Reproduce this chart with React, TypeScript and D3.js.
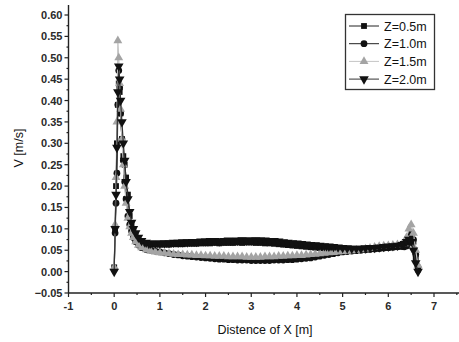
import React, { useEffect, useRef } from 'react';
import * as d3 from 'd3';

// shared X positions (m)
const xValues = [
    0, 0.02, 0.04, 0.06, 0.08, 0.1, 0.12, 0.14, 0.17, 0.2, 0.23, 0.26, 0.3, 0.34, 0.38, 0.42, 0.47, 0.53, 0.6, 0.7, 0.8, 0.9, 1.0,
    1.1, 1.2, 1.3, 1.4, 1.5, 1.6, 1.7, 1.8, 1.9, 2.0, 2.1, 2.2, 2.3, 2.4, 2.5, 2.6, 2.7, 2.8, 2.9, 3.0,
    3.1, 3.2, 3.3, 3.4, 3.5, 3.6, 3.7, 3.8, 3.9, 4.0, 4.1, 4.2, 4.3, 4.4, 4.5, 4.6, 4.7, 4.8, 4.9, 5.0,
    5.1, 5.2, 5.3, 5.4, 5.5, 5.6, 5.7, 5.8, 5.9, 6.0, 6.1, 6.2, 6.3,
    6.35, 6.4, 6.45, 6.5, 6.55, 6.6, 6.65
];

const vZ05 = [
    0.01, 0.095, 0.2, 0.3, 0.39, 0.44, 0.42, 0.37, 0.31, 0.27, 0.25, 0.22, 0.18, 0.13, 0.11, 0.095, 0.085, 0.075, 0.07, 0.066, 0.064, 0.063, 0.063,
    0.063, 0.063, 0.064, 0.064, 0.064, 0.065, 0.065, 0.065, 0.066, 0.066, 0.066, 0.067, 0.066, 0.067, 0.067, 0.067, 0.068, 0.067, 0.068, 0.068,
    0.067, 0.067, 0.066, 0.066, 0.065, 0.064, 0.063, 0.062, 0.061, 0.060, 0.059, 0.058, 0.057, 0.056, 0.055, 0.054, 0.054, 0.053, 0.053, 0.052,
    0.052, 0.051, 0.051, 0.052, 0.052, 0.053, 0.054, 0.054, 0.055, 0.056, 0.057, 0.058, 0.059,
    0.06, 0.065, 0.08, 0.09, 0.07, 0.03, 0.005
];

const vZ10 = [
    0.005, 0.09, 0.16, 0.23, 0.39, 0.47, 0.43, 0.37, 0.31, 0.26, 0.21, 0.17, 0.13, 0.11, 0.095, 0.08, 0.07, 0.062, 0.056, 0.052, 0.05, 0.048, 0.046,
    0.044, 0.042, 0.040, 0.039, 0.037, 0.036, 0.035, 0.034, 0.033, 0.032, 0.031, 0.030, 0.029, 0.029, 0.028, 0.028, 0.027, 0.027, 0.027, 0.026,
    0.026, 0.026, 0.026, 0.026, 0.027, 0.027, 0.027, 0.028, 0.028, 0.029, 0.030, 0.031, 0.032, 0.034, 0.036, 0.038, 0.040, 0.042, 0.044, 0.046,
    0.047, 0.048, 0.049, 0.050, 0.051, 0.052, 0.053, 0.054, 0.055, 0.056, 0.057, 0.058, 0.059,
    0.058, 0.06, 0.07, 0.085, 0.075, 0.04, 0.01
];

const vZ15 = [
    0.01, 0.11, 0.22, 0.35, 0.54, 0.5, 0.44, 0.38, 0.31, 0.25, 0.2, 0.16, 0.125, 0.105, 0.09, 0.08, 0.07, 0.062, 0.056, 0.051, 0.048, 0.046, 0.044,
    0.043, 0.042, 0.041, 0.040, 0.040, 0.039, 0.039, 0.038, 0.038, 0.037, 0.037, 0.036, 0.036, 0.036, 0.035, 0.035, 0.035, 0.035, 0.034, 0.034,
    0.034, 0.034, 0.035, 0.035, 0.035, 0.036, 0.036, 0.037, 0.037, 0.038, 0.038, 0.039, 0.040, 0.041, 0.042, 0.043, 0.044, 0.045, 0.046, 0.047,
    0.048, 0.049, 0.050, 0.051, 0.053, 0.055, 0.057, 0.059, 0.060, 0.061, 0.062, 0.063, 0.064,
    0.065, 0.08, 0.1, 0.11, 0.09, 0.05, 0.015
];

const vZ20 = [
    0, 0.1, 0.18, 0.29, 0.42, 0.48, 0.45, 0.4, 0.35, 0.3, 0.26, 0.21, 0.17, 0.14, 0.115, 0.1, 0.09, 0.08, 0.072, 0.068, 0.066, 0.066, 0.066,
    0.067, 0.067, 0.068, 0.068, 0.069, 0.069, 0.070, 0.070, 0.071, 0.071, 0.072, 0.072, 0.071, 0.072, 0.073, 0.072, 0.073, 0.074, 0.073, 0.073,
    0.074, 0.073, 0.073, 0.072, 0.072, 0.071, 0.069, 0.068, 0.067, 0.066, 0.065, 0.064, 0.063, 0.062, 0.061, 0.060, 0.059, 0.058, 0.057, 0.056,
    0.055, 0.054, 0.054, 0.054, 0.055, 0.056, 0.056, 0.057, 0.058, 0.059, 0.060, 0.061, 0.063,
    0.065, 0.07, 0.075, 0.07, 0.05, 0.02, 0
];

const seriesNames = ['Z=0.5m', 'Z=1.0m', 'Z=1.5m', 'Z=2.0m'];
const yTickValues = [-0.05, 0, 0.05, 0.1, 0.15, 0.2, 0.25, 0.3, 0.35, 0.4, 0.45, 0.5, 0.55, 0.6];
const xTickValues = [-1, 0, 1, 2, 3, 4, 5, 6, 7];

const W = 459;
const H = 342;
const font = '"Liberation Sans", Arial, sans-serif';

const series = [
    { name: seriesNames[0], values: vZ05, symbol: d3.symbolSquare, size: 34, color: '#111', line: '#222' },
    { name: seriesNames[1], values: vZ10, symbol: d3.symbolCircle, size: 36, color: '#111', line: '#222' },
    { name: seriesNames[2], values: vZ15, symbol: d3.symbolTriangle, size: 34, color: '#a4a4a4', line: '#c4c4c4' },
    { name: seriesNames[3], values: vZ20, symbol: d3.symbolTriangle, size: 40, color: '#111', line: '#333', flip: true },
];

const App = () => {
    const svgRef = useRef();

    useEffect(() => {
        const svg = d3.select(svgRef.current);
        svg.selectAll('*').remove();

        const x = d3.scaleLinear().domain([-1, 7]).range([68.5, 434]);
        const y = d3.scaleLinear().domain([-0.05, 0.6]).range([293, 15]);

        // axes
        const yAxis = svg.append('g');
        yAxis.append('line')
            .attr('x1', x(-1)).attr('x2', x(-1))
            .attr('y1', y(-0.05)).attr('y2', 5)
            .attr('stroke', '#222').attr('stroke-width', 1.4);
        d3.range(-0.05, 0.62, 0.025).forEach((v, i) => {
            const major = i % 2 === 0;
            yAxis.append('line')
                .attr('x1', x(-1)).attr('x2', x(-1) - (major ? 4 : 2))
                .attr('y1', y(v)).attr('y2', y(v))
                .attr('stroke', '#222').attr('stroke-width', 1.2);
        });
        yAxis.selectAll('.ylab')
            .data(yTickValues)
            .enter()
            .append('text')
            .attr('x', x(-1) - 6)
            .attr('y', d => y(d) + 4)
            .attr('text-anchor', 'end')
            .attr('font-family', font)
            .attr('font-size', 11)
            .attr('font-weight', 'bold')
            .attr('fill', '#2a2a2a')
            .text(d => d3.format('.2f')(d));

        const xAxis = svg.append('g');
        xAxis.append('line')
            .attr('x1', x(-1)).attr('x2', 459)
            .attr('y1', y(-0.05)).attr('y2', y(-0.05))
            .attr('stroke', '#222').attr('stroke-width', 1.4);
        d3.range(-1, 7.6, 0.5).forEach((v, i) => {
            const major = i % 2 === 0;
            xAxis.append('line')
                .attr('x1', x(v)).attr('x2', x(v))
                .attr('y1', y(-0.05)).attr('y2', y(-0.05) + (major ? 4 : 2))
                .attr('stroke', '#222').attr('stroke-width', 1.2);
        });
        xAxis.selectAll('.xlab')
            .data(xTickValues)
            .enter()
            .append('text')
            .attr('x', d => x(d))
            .attr('y', y(-0.05) + 17)
            .attr('text-anchor', 'middle')
            .attr('font-family', font)
            .attr('font-size', 11)
            .attr('font-weight', 'bold')
            .attr('fill', '#2a2a2a')
            .text(d => d);

        // axis titles
        svg.append('text')
            .attr('transform', `translate(23,148) rotate(-90)`)
            .attr('text-anchor', 'middle')
            .attr('font-family', font)
            .attr('font-size', 12.5)
            .attr('fill', '#111')
            .text('V [m/s]');
        svg.append('text')
            .attr('x', 265)
            .attr('y', 334)
            .attr('text-anchor', 'middle')
            .attr('font-family', font)
            .attr('font-size', 12.5)
            .attr('fill', '#111')
            .text('Distence of X [m]');

        // series
        const line = d3.line()
            .x((d, i) => x(xValues[i]))
            .y(d => y(d));

        series.forEach(s => {
            const g = svg.append('g');
            g.append('path')
                .datum(s.values)
                .attr('fill', 'none')
                .attr('stroke', s.line)
                .attr('stroke-width', 1.2)
                .attr('d', line);
            const sym = d3.symbol().type(s.symbol).size(s.size);
            g.selectAll('path.pt')
                .data(s.values)
                .enter()
                .append('path')
                .attr('class', 'pt')
                .attr('d', sym)
                .attr('transform', (d, i) => `translate(${x(xValues[i])},${y(d)})${s.flip ? ' rotate(180)' : ''}`)
                .attr('fill', s.color);
        });

        // legend
        const lg = svg.append('g');
        lg.append('rect')
            .attr('x', 345.5).attr('y', 14.5)
            .attr('width', 89).attr('height', 75)
            .attr('fill', 'white')
            .attr('stroke', '#333').attr('stroke-width', 1.3);
        series.forEach((s, i) => {
            const cy = 26 + i * 17.7;
            lg.append('line')
                .attr('x1', 349).attr('x2', 379)
                .attr('y1', cy).attr('y2', cy)
                .attr('stroke', s.line).attr('stroke-width', 1);
            lg.append('path')
                .attr('d', d3.symbol().type(s.symbol).size(s.size)())
                .attr('transform', `translate(364,${cy})${s.flip ? ' rotate(180)' : ''}`)
                .attr('fill', s.color);
            lg.append('text')
                .attr('x', 384)
                .attr('y', cy + 4.5)
                .attr('font-family', font)
                .attr('font-size', 12.5)
                .attr('fill', '#111')
                .text(s.name);
        });
    }, []);

    return (
        <svg ref={svgRef} width={W} height={H}
            style={{ position: 'absolute', left: 0, top: 0, background: 'white' }} />
    );
};

export default App;
